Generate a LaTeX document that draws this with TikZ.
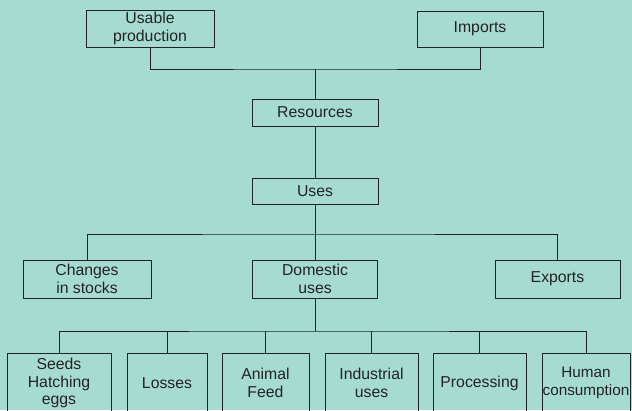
\documentclass[tikz,border=0pt]{standalone}
\usepackage{fontspec}
\setmainfont{Liberation Sans}
\definecolor{bg}{RGB}{166,219,209}
\definecolor{ink}{RGB}{35,35,35}
\begin{document}
\begin{tikzpicture}[x=1pt,y=-1pt,
  box/.style={draw=ink,line width=1pt,rectangle,inner sep=0pt,align=center,
    text=ink,font=\fontsize{15.8}{17.5}\selectfont},
  conn/.style={draw=ink,line width=1pt}]
\fill[bg] (0,0) rectangle (632,410);
\useasboundingbox (0,0) rectangle (632,410);
\clip (0,0) rectangle (632,410);
% top level
\node[box,minimum width=128pt,minimum height=37pt] (up) at (150,28.5) {Usable\\production};
\node[box,minimum width=126pt,minimum height=36pt] (imp) at (480,29) {Imports};
\node[box,minimum width=126pt,minimum height=27pt] (res) at (315,112.5) {Resources};
\node[box,minimum width=126pt,minimum height=26pt] (uses) at (315,191) {Uses};
% middle level
\node[box,minimum width=128pt,minimum height=38pt] (chg) at (87,279) {Changes\\in stocks};
\node[box,minimum width=125pt,minimum height=38pt] (dom) at (315,279) {Domestic\\uses};
\node[box,minimum width=125pt,minimum height=38pt] (exp) at (557.5,279) {Exports};
% bottom level
\node[box,minimum width=104pt,minimum height=59pt] (seeds) at (59,383) {Seeds\\Hatching\\eggs};
\node[box,minimum width=80pt,minimum height=59pt] (loss) at (167,383) {Losses};
\node[box,minimum width=87pt,minimum height=59pt] (feed) at (265.5,383) {Animal\\Feed};
\node[box,minimum width=93pt,minimum height=59pt] (ind) at (371.5,383) {Industrial\\uses};
\node[box,minimum width=93pt,minimum height=59pt] (proc) at (479.5,383) {Processing};
\node[box,minimum width=88pt,minimum height=59pt,font=\fontsize{15.3}{17.5}\selectfont] (hum) at (586,383) {Human\\consumption};
% junctions
\coordinate (j1) at (res.north |- 0,69);
\coordinate (j2) at (uses.south |- 0,234);
\coordinate (j3) at (dom.south |- 0,331);
% connectors
\draw[conn] (up.south) |- (j1) -| (imp.south);
\draw[conn] (j1) -- (res.north);
\draw[conn] (res.south) -- (uses.north);
\draw[conn] (chg.north) |- (j2) -| (exp.north);
\draw[conn] (uses.south) -- (dom.north);
\draw[conn] (seeds.north) |- (j3) -| (hum.north);
\draw[conn] (dom.south) -- (j3);
\draw[conn] (loss.north) -- (loss.north |- j3);
\draw[conn] (feed.north) -- (feed.north |- j3);
\draw[conn] (ind.north) -- (ind.north |- j3);
\draw[conn] (proc.north) -- (proc.north |- j3);
\end{tikzpicture}
\end{document}
